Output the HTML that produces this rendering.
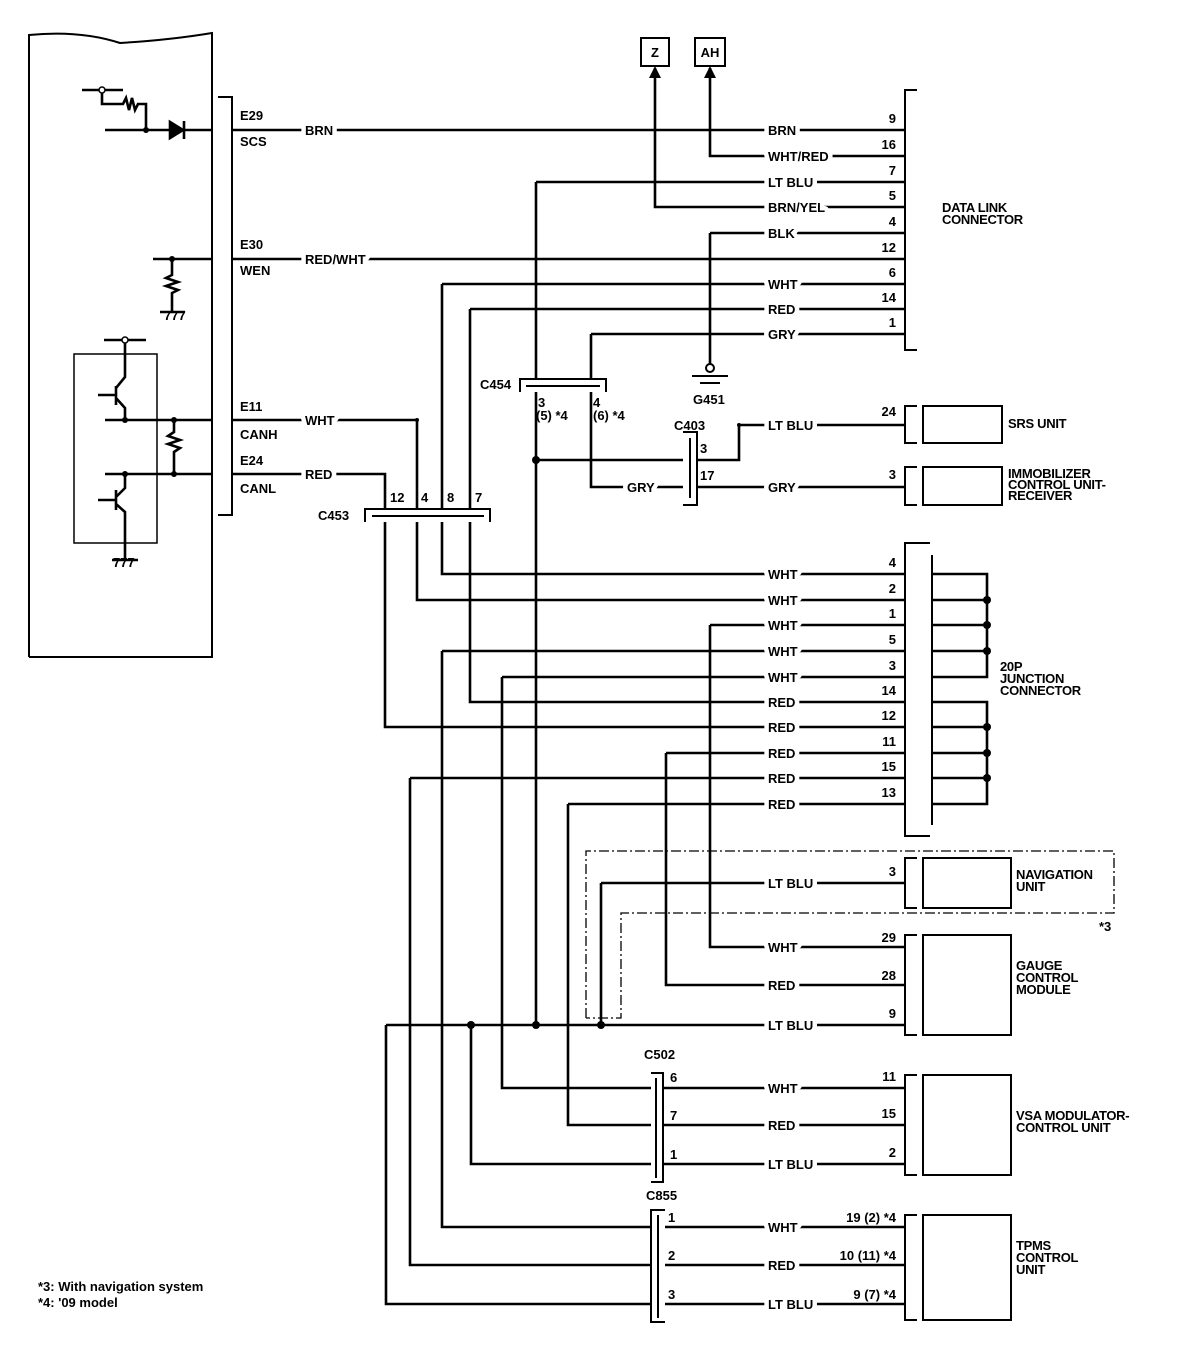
<!DOCTYPE html>
<html><head><meta charset="utf-8"><style>
html,body{margin:0;padding:0;background:#fff}
svg{display:block}
text{font-family:"Liberation Sans",Arial,sans-serif;font-weight:bold;font-size:13px;fill:#000}
.h{stroke:#fff;stroke-width:9px;paint-order:stroke;stroke-linejoin:round}
</style></head><body>
<svg width="1184" height="1358" viewBox="0 0 1184 1358" xmlns="http://www.w3.org/2000/svg">
<g fill="none" stroke="#000" stroke-width="2.6">
<path d="M29,657 V35 Q80,30 120,43 Q170,40 212,33 V657 H29" stroke-width="2"/>
<path d="M218,97 H232 V515 H218" stroke-width="2"/>
<path d="M82,90 H123 M102,90 V104 H123 L126,98 L129,110 L132,98 L135,110 L138,104 H146 V130 M105,130 H212"/>
<path d="M170,122 V138 L183,130 Z" fill="#000"/><path d="M184,121 V139"/>
<path d="M153,259 H212 M172,259 V275 L166,278 L178,282 L166,286 L178,290 L172,293 V312 M160,312 H185"/>
<rect x="74" y="354" width="83" height="189" stroke-width="1.5"/>
<path d="M104,340 H146 M125,340 V377 L116,388 M116,386 V405 M98,395 H116 M116,398 L125,408 V420 M105,420 H212 M174,420 V432 L168,436 L180,440 L168,444 L180,448 L174,452 V474 M105,474 H212 M125,474 V488 L116,497 M116,490 V510 M98,500 H116 M116,504 L125,512 V560 M112,560 H138"/>
<path d="M232,130 H905"/>
<path d="M710,68 V156 H905"/>
<path d="M536,182 H905 M536,182 V1025"/>
<path d="M655,68 V207 H905"/>
<path d="M710,233 H905 M710,233 V364"/>
<path d="M232,259 H905"/>
<path d="M442,284 H905 M442,284 V574 H905"/>
<path d="M470,309 H905 M470,309 V702 H905"/>
<path d="M591,334 H905 M591,334 V487 H905"/>
<path d="M232,420 H417 V600 H905"/>
<path d="M232,474 H385 V727 H905"/>
<path d="M536,460 H739 V425 H905"/>
<path d="M710,625 H905 M710,625 V947 H905"/>
<path d="M442,651 H905 M442,651 V1227 H905"/>
<path d="M502,677 H905 M502,677 V1088 H905"/>
<path d="M666,753 H905 M666,753 V985 H905"/>
<path d="M410,778 H905 M410,778 V1265 H905"/>
<path d="M568,804 H905 M568,804 V1125 H905"/>
<path d="M601,883 H905 M601,883 V1025"/>
<path d="M386,1025 H905 M386,1025 V1304 H905 M471,1025 V1164 H905"/>
<path d="M932,574 H987 V677 H932 M932,600 H987 M932,625 H987 M932,651 H987"/>
<path d="M932,702 H987 V804 H932 M932,727 H987 M932,753 H987 M932,778 H987"/>
</g>
<path d="M649,78 L655,66 L661,78 Z M704,78 L710,66 L716,78 Z" fill="#000"/>
<g fill="none" stroke="#000" stroke-width="2">
<rect x="641" y="38" width="28" height="28"/><rect x="695" y="38" width="30" height="28"/>
<circle cx="710" cy="368" r="4" fill="#fff"/>
<path d="M692,376 H728 M700,383 H720"/>
<path d="M917,90 H905 V350 H917"/>
<path d="M917,406 H905 V443 H917"/><rect x="923" y="406" width="79" height="37"/>
<path d="M917,467 H905 V505 H917"/><rect x="923" y="467" width="79" height="38"/>
<path d="M930,543 H905 V836 H930 M932,555 V825"/>
<path d="M917,858 H905 V908 H917"/><rect x="923" y="858" width="88" height="50"/>
<path d="M586,1018 V851 H1114 V913 H621 V1018 H586" stroke-width="1.3" stroke-dasharray="10,3,2,3"/>
<path d="M917,935 H905 V1035 H917"/><rect x="923" y="935" width="88" height="100"/>
<path d="M917,1075 H905 V1175 H917"/><rect x="923" y="1075" width="88" height="100"/>
<path d="M917,1215 H905 V1320 H917"/><rect x="923" y="1215" width="88" height="105"/>
<path d="M365,522 V509 H490 V522 M372,516 H484" fill="#fff"/>
<path d="M520,392 V379 H606 V392 M526,386 H600" fill="#fff"/>
<path d="M683,432 H697 V505 H683 M690,438 V498" fill="#fff"/>
<path d="M651,1073 H663 V1182 H651 M656,1078 V1178" fill="#fff"/>
<path d="M665,1210 H651 V1322 H665 M658,1215 V1318" fill="#fff"/>
</g>
<g fill="#000">
<circle cx="146" cy="130" r="3"/><circle cx="172" cy="259" r="3"/><circle cx="125" cy="420" r="3"/><circle cx="174" cy="420" r="3"/><circle cx="125" cy="474" r="3"/><circle cx="174" cy="474" r="3"/>
<circle cx="417" cy="420" r="2"/><circle cx="739" cy="425" r="2"/><circle cx="536" cy="460" r="4"/>
<circle cx="471" cy="1025" r="4"/><circle cx="536" cy="1025" r="4"/><circle cx="601" cy="1025" r="4"/>
<circle cx="987" cy="600" r="4"/><circle cx="987" cy="625" r="4"/><circle cx="987" cy="651" r="4"/>
<circle cx="987" cy="727" r="4"/><circle cx="987" cy="753" r="4"/><circle cx="987" cy="778" r="4"/>
</g>
<circle cx="102" cy="90" r="3" fill="#fff" stroke="#000" stroke-width="1.5"/>
<circle cx="125" cy="340" r="3" fill="#fff" stroke="#000" stroke-width="1.5"/>
<g font-size="11"><text x="164" y="320">777</text><text x="113" y="567">777</text></g>
<text x="240" y="120">E29</text><text x="240" y="146">SCS</text>
<text x="240" y="249">E30</text><text x="240" y="275">WEN</text>
<text x="240" y="411">E11</text><text x="240" y="439">CANH</text>
<text x="240" y="465">E24</text><text x="240" y="493">CANL</text>
<text class="h" x="305" y="135">BRN</text>
<text class="h" x="305" y="264">RED/WHT</text>
<text class="h" x="305" y="425">WHT</text>
<text class="h" x="305" y="479">RED</text>
<text x="655" y="57" text-anchor="middle">Z</text><text x="710" y="57" text-anchor="middle">AH</text>
<g>
<text class="h" x="768" y="135">BRN</text>
<text class="h" x="768" y="161">WHT/RED</text>
<text class="h" x="768" y="187">LT BLU</text>
<text class="h" x="768" y="212">BRN/YEL</text>
<text class="h" x="768" y="238">BLK</text>
<text class="h" x="768" y="289">WHT</text>
<text class="h" x="768" y="314">RED</text>
<text class="h" x="768" y="339">GRY</text>
<text class="h" x="768" y="430">LT BLU</text>
<text class="h" x="627" y="492">GRY</text>
<text class="h" x="768" y="492">GRY</text>
<text class="h" x="768" y="579">WHT</text>
<text class="h" x="768" y="605">WHT</text>
<text class="h" x="768" y="630">WHT</text>
<text class="h" x="768" y="656">WHT</text>
<text class="h" x="768" y="682">WHT</text>
<text class="h" x="768" y="707">RED</text>
<text class="h" x="768" y="732">RED</text>
<text class="h" x="768" y="758">RED</text>
<text class="h" x="768" y="783">RED</text>
<text class="h" x="768" y="809">RED</text>
<text class="h" x="768" y="888">LT BLU</text>
<text class="h" x="768" y="952">WHT</text>
<text class="h" x="768" y="990">RED</text>
<text class="h" x="768" y="1030">LT BLU</text>
<text class="h" x="768" y="1093">WHT</text>
<text class="h" x="768" y="1130">RED</text>
<text class="h" x="768" y="1169">LT BLU</text>
<text class="h" x="768" y="1232">WHT</text>
<text class="h" x="768" y="1270">RED</text>
<text class="h" x="768" y="1309">LT BLU</text>
</g>
<g text-anchor="end">
<text x="896" y="123">9</text><text x="896" y="149">16</text><text x="896" y="175">7</text><text x="896" y="200">5</text><text x="896" y="226">4</text><text x="896" y="252">12</text><text x="896" y="277">6</text><text x="896" y="302">14</text><text x="896" y="327">1</text>
<text x="896" y="416">24</text><text x="896" y="479">3</text>
<text x="896" y="567">4</text><text x="896" y="593">2</text><text x="896" y="618">1</text><text x="896" y="644">5</text><text x="896" y="670">3</text><text x="896" y="695">14</text><text x="896" y="720">12</text><text x="896" y="746">11</text><text x="896" y="771">15</text><text x="896" y="797">13</text>
<text x="896" y="876">3</text><text x="896" y="942">29</text><text x="896" y="980">28</text><text x="896" y="1018">9</text>
<text x="896" y="1081">11</text><text x="896" y="1118">15</text><text x="896" y="1157">2</text>
<text x="896" y="1222">19 (2) *4</text><text x="896" y="1260">10 (11) *4</text><text x="896" y="1299">9 (7) *4</text>
</g>
<text x="318" y="520">C453</text>
<text x="390" y="502">12</text><text x="421" y="502">4</text><text x="447" y="502">8</text><text x="475" y="502">7</text>
<text x="480" y="389">C454</text>
<text x="538" y="407">3</text><text x="536" y="420">(5) *4</text>
<text x="593" y="407">4</text><text x="593" y="420">(6) *4</text>
<text x="693" y="404">G451</text>
<text x="674" y="430">C403</text><text x="700" y="453">3</text><text x="700" y="480">17</text>
<text x="644" y="1059">C502</text><text x="670" y="1082">6</text><text x="670" y="1120">7</text><text x="670" y="1159">1</text>
<text x="646" y="1200">C855</text><text x="668" y="1222">1</text><text x="668" y="1260">2</text><text x="668" y="1299">3</text>
<text x="1099" y="931">*3</text>
<g font-size="13" style="letter-spacing:-0.3px">
<text x="942" y="212">DATA LINK</text><text x="942" y="224">CONNECTOR</text>
<text x="1008" y="428">SRS UNIT</text>
<text x="1008" y="478">IMMOBILIZER</text><text x="1008" y="489">CONTROL UNIT-</text><text x="1008" y="500">RECEIVER</text>
<text x="1000" y="671">20P</text><text x="1000" y="683">JUNCTION</text><text x="1000" y="695">CONNECTOR</text>
<text x="1016" y="879">NAVIGATION</text><text x="1016" y="891">UNIT</text>
<text x="1016" y="970">GAUGE</text><text x="1016" y="982">CONTROL</text><text x="1016" y="994">MODULE</text>
<text x="1016" y="1120">VSA MODULATOR-</text><text x="1016" y="1132">CONTROL UNIT</text>
<text x="1016" y="1250">TPMS</text><text x="1016" y="1262">CONTROL</text><text x="1016" y="1274">UNIT</text>
</g>
<text x="38" y="1291" font-size="17">*3: With navigation system</text>
<text x="38" y="1307" font-size="17">*4: '09 model</text>
</svg>
</body></html>
